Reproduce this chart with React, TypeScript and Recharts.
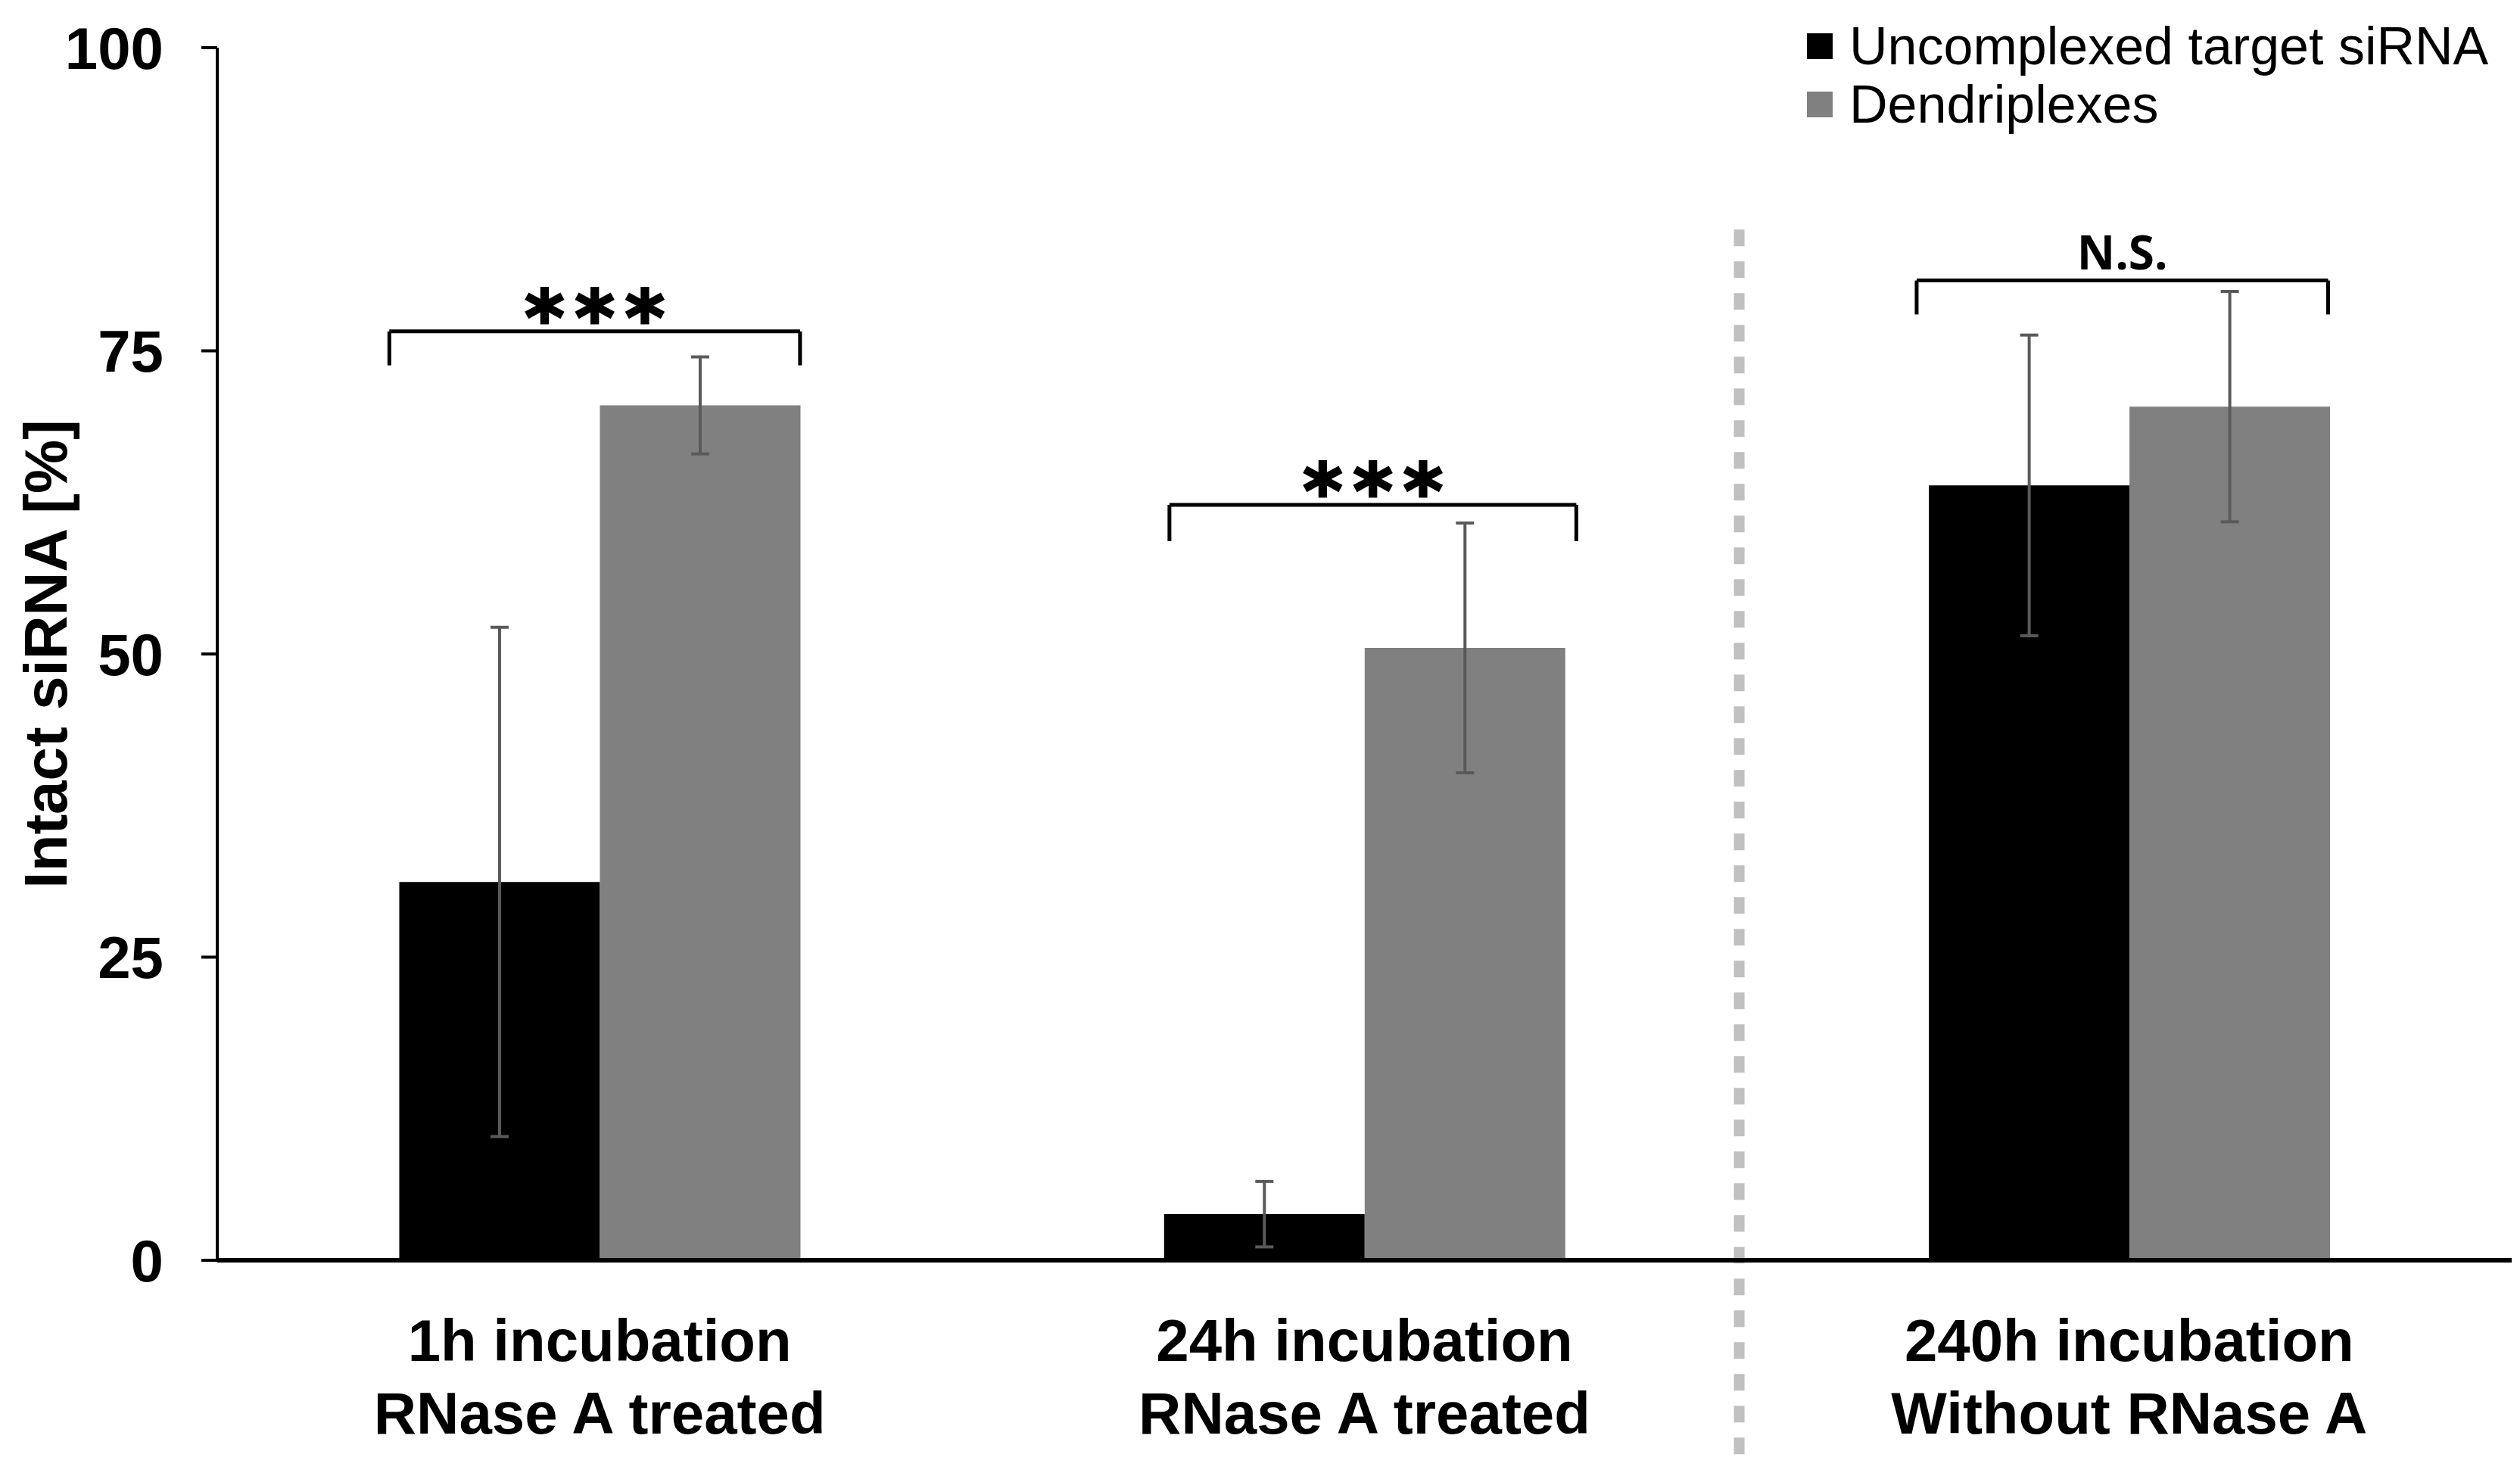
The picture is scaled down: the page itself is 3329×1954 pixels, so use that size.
import React from 'react'
import { BarChart, Bar, XAxis, YAxis, ErrorBar, ReferenceLine, Legend } from 'recharts'

document.body.style.margin = '0'

// categories (two-line tick labels)
const catLine1 = ['1h incubation', '24h incubation', '240h incubation']
const catLine2 = ['RNase A treated', 'RNase A treated', 'Without RNase A']
// band centres on the hidden numeric axis (0..3)
const catPos = [0.5, 1.5, 2.5]

// series values (Intact siRNA [%])
const seriesNames = ['Uncomplexed target siRNA', 'Dendriplexes']
const uncomplexed = [31.2, 3.8, 63.9]
const uncomplexedErr = [21.0, 2.7, 12.4]
const dendriplexes = [70.5, 50.5, 70.4]
const dendriplexesErr = [4.0, 10.3, 9.5]

const yTicks = [0, 25, 50, 75, 100]

// significance brackets, x in category units (0..3), y in %
const bracketStart = [0.225, 1.245, 2.222]
const bracketEnd = [0.762, 1.777, 2.76]
const bracketTop = [76.6, 62.3, 80.8]
const bracketFoot = [73.8, 59.3, 78.0]
const bracketText = ['***', '***', 'N.S.']

// dotted separator between treated / untreated groups
const dividerX = 1.99
const dividerSpan = [85, -16]

const data = catLine1.map((name, i) => ({
  name,
  pos: catPos[i],
  uncomplexed: uncomplexed[i],
  uncomplexedErr: uncomplexedErr[i],
  dendriplexes: dendriplexes[i],
  dendriplexesErr: dendriplexesErr[i],
}))

const FONT = '"Liberation Sans", Arial, sans-serif'

function CategoryTick(props: any) {
  const { x, y, payload } = props
  const i = catLine1.indexOf(payload.value)
  return (
    <text x={x} y={y} textAnchor="middle" fontFamily={FONT} fontSize={78} fontWeight="bold" fill="#000">
      <tspan x={x} dy={133}>{catLine1[i]}</tspan>
      <tspan x={x} dy={96}>{catLine2[i]}</tspan>
    </text>
  )
}

function LegendBox(props: any) {
  const payload = [...(props.payload || [])].sort(
    (a: any, b: any) => seriesNames.indexOf(a.value) - seriesNames.indexOf(b.value)
  )
  return (
    <div style={{ fontFamily: FONT, fontSize: 70, color: '#000', whiteSpace: 'nowrap' }}>
      {payload.map((p: any) => (
        <div key={p.value} style={{ display: 'flex', alignItems: 'center', height: 77 }}>
          <div style={{ width: 34, height: 34, background: p.color, marginRight: 22 }} />
          <span>{p.value}</span>
        </div>
      ))}
    </div>
  )
}

function BracketLabel(text: string) {
  return (props: any) => {
    const vb = props.viewBox || {}
    const cx = vb.x + (vb.width || 0) / 2
    if (text === 'N.S.') {
      return (
        <text x={cx} y={vb.y - 15} textAnchor="middle" fill="#000" fontSize={62} fontWeight="bold" fontFamily='"Open Sans", sans-serif'>
          {text}
        </text>
      )
    }
    return (
      <text
        x={cx + 7}
        y={vb.y + 17}
        textAnchor="middle"
        fill="#000"
        stroke="#000"
        strokeWidth={3}
        fontSize={100}
        fontWeight="bold"
        letterSpacing={14}
        fontFamily='"DejaVu Sans", sans-serif'
      >
        {text}
      </text>
    )
  }
}

export default function App() {
  return (
    <div style={{ width: 3329, height: 1954, background: '#fff' }}>
      <BarChart
        width={3329}
        height={1954}
        data={data}
        margin={{ top: 63, right: 11, bottom: 0, left: 0 }}
        barCategoryGap="23.8%"
        barGap={0}
      >
        <XAxis
          dataKey="name"
          height={289}
          axisLine={{ stroke: '#000', strokeWidth: 6 }}
          tickLine={false}
          tickSize={0}
          tickMargin={0}
          tick={<CategoryTick />}
          interval={0}
        />
        <XAxis xAxisId="num" dataKey="pos" type="number" domain={[0, 3]} allowDataOverflow hide />
        <YAxis
          width={287}
          domain={[0, 100]}
          ticks={yTicks}
          interval={0}
          axisLine={{ stroke: '#000', strokeWidth: 4 }}
          tickLine={{ stroke: '#000', strokeWidth: 4 }}
          tickSize={21}
          tickMargin={50}
          tick={{ fill: '#000', fontSize: 78, fontWeight: 'bold', fontFamily: FONT }}
          label={{
            value: 'Intact siRNA [%]',
            angle: -90,
            position: 'center',
            dx: -84,
            style: { fill: '#000', fontSize: 80, fontWeight: 'bold', fontFamily: FONT },
          }}
        />
        <Legend
          layout="vertical"
          align="center"
          verticalAlign="middle"
          wrapperStyle={{ top: 22, left: 2387, width: 'auto' }}
          content={<LegendBox />}
        />
        <Bar dataKey="uncomplexed" name={seriesNames[0]} fill="#000000" isAnimationActive={false}>
          <ErrorBar dataKey="uncomplexedErr" width={12} strokeWidth={4} stroke="#5a5a5a" direction="y" isAnimationActive={false} />
        </Bar>
        <Bar dataKey="dendriplexes" name={seriesNames[1]} fill="#808080" isAnimationActive={false}>
          <ErrorBar dataKey="dendriplexesErr" width={12} strokeWidth={4} stroke="#5a5a5a" direction="y" isAnimationActive={false} />
        </Bar>

        <ReferenceLine
          xAxisId="num"
          segment={[{ x: dividerX, y: dividerSpan[0] }, { x: dividerX, y: dividerSpan[1] }]}
          stroke="#c0c0c0"
          strokeWidth={14}
          strokeDasharray="22 20"
          ifOverflow="visible"
        />

        {bracketText.map((t, i) => (
          <ReferenceLine
            key={'top' + i}
            xAxisId="num"
            segment={[{ x: bracketStart[i], y: bracketTop[i] }, { x: bracketEnd[i], y: bracketTop[i] }]}
            stroke="#000"
            strokeWidth={5}
            ifOverflow="visible"
            label={BracketLabel(t)}
          />
        ))}
        {bracketText.map((t, i) => (
          <ReferenceLine
            key={'l' + i}
            xAxisId="num"
            segment={[{ x: bracketStart[i], y: bracketTop[i] }, { x: bracketStart[i], y: bracketFoot[i] }]}
            stroke="#000"
            strokeWidth={5}
            ifOverflow="visible"
          />
        ))}
        {bracketText.map((t, i) => (
          <ReferenceLine
            key={'r' + i}
            xAxisId="num"
            segment={[{ x: bracketEnd[i], y: bracketTop[i] }, { x: bracketEnd[i], y: bracketFoot[i] }]}
            stroke="#000"
            strokeWidth={5}
            ifOverflow="visible"
          />
        ))}
      </BarChart>
    </div>
  )
}
